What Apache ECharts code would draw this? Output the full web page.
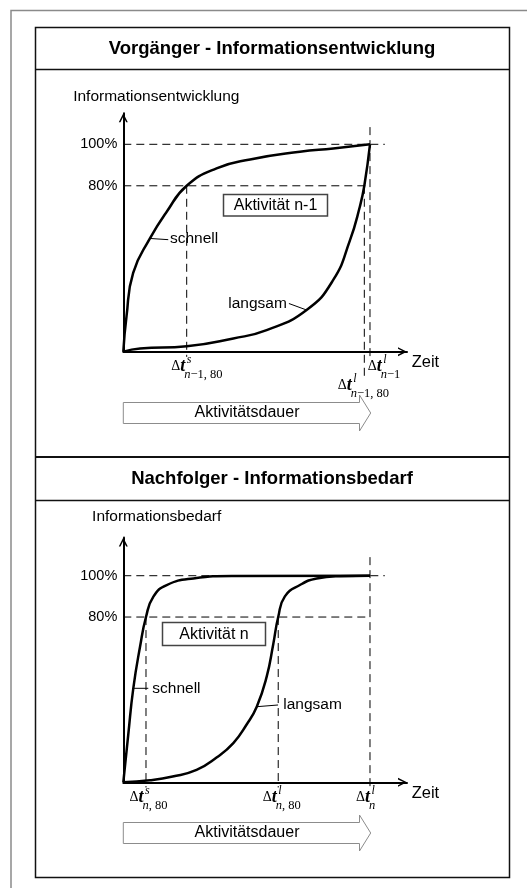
<!DOCTYPE html>
<html>
<head>
<meta charset="utf-8">
<script src="https://cdn.jsdelivr.net/npm/echarts@6/dist/echarts.min.js"></script>
<style>
html, body { margin: 0; padding: 0; background: #fff; }
#chart { width: 527px; height: 888px; }
</style>
</head>
<body>
<div id="chart"></div>
<script>
// Zeitachse: 0..100 = Aktivitätsdauer, y: Information in %
// Vorgänger - Informationsentwicklung
var vorSchnellX = [0, 1.3, 4, 10.8, 17.6, 25.7, 37.8, 51.4, 71.6, 85.1, 100];
var vorSchnellY = [0, 17, 38, 54.6, 67.5, 80, 88.4, 92.7, 96.4, 98, 100];
var vorLangsamX = [0, 6.8, 25.7, 44.6, 58.1, 74.3, 85.1, 91.9, 95.9, 97.7, 100];
var vorLangsamY = [0, 1.5, 2.6, 6.4, 10.4, 20.1, 34.6, 53.8, 70, 80, 100];
var vorZeitpunkte = [25.7, 97.7, 100]; // Δt^s_{n-1,80}, Δt^l_{n-1,80}, Δt^l_{n-1}

// Nachfolger - Informationsbedarf
var nachSchnellX = [0, 2, 4.05, 6.8, 9.2, 12.2, 17.6, 28.4, 44.6, 100];
var nachSchnellY = [0, 23, 45.5, 65.7, 80, 89.9, 95.5, 98.7, 99.9, 100];
var nachLangsamX = [0, 10.8, 20, 29.7, 37.8, 44.6, 50, 54.1, 58.1, 60.8, 62.8, 65.5, 71.6, 78.4, 87.8, 100];
var nachLangsamY = [0, 1, 2.8, 6, 12, 19, 28, 36.6, 51, 67, 80, 90, 95.5, 98.7, 99.8, 100];
var nachZeitpunkte = [9.2, 62.8, 100]; // Δt^s_{n,80}, Δt^l_{n,80}, Δt^l_n

var niveaus = [80, 100];
var yLabels = ['80%', '100%'];

var SANS = '"Liberation Sans", Arial, sans-serif';
var SERIF = '"Liberation Serif", "Times New Roman", serif';
var arrowPath = 'path://M0,100 L50,0 L100,100 L82,100 L50,36 L18,100 Z';

function zip(xs, ys) {
  return xs.map(function (x, i) { return [x, ys[i]]; });
}

var chart = echarts.init(document.getElementById('chart'));

function xAxisCfg(g) {
  return {
    type: 'value', gridIndex: g, min: 0, max: 115,
    axisLine: { show: true, onZero: true, lineStyle: { color: '#000', width: 2 },
      symbol: ['none', arrowPath], symbolSize: [12, 9], symbolOffset: [0, -4.5] },
    axisTick: { show: false }, axisLabel: { show: false }, splitLine: { show: false }
  };
}
function yAxisCfg(g, max) {
  return {
    type: 'value', gridIndex: g, min: 0, max: max, interval: 20,
    axisLine: { show: true, lineStyle: { color: '#000', width: 2 },
      symbol: ['none', arrowPath], symbolSize: [11, 9], symbolOffset: [0, -4.5] },
    axisTick: { show: false }, splitLine: { show: false },
    axisLabel: {
      margin: 6, color: '#000', fontSize: 14.5, fontFamily: SANS,
      formatter: function (v) {
        var i = niveaus.indexOf(v);
        return i >= 0 ? yLabels[i] : '';
      }
    }
  };
}
function curve(g, xs, ys) {
  return {
    type: 'line', xAxisIndex: g, yAxisIndex: g, data: zip(xs, ys),
    smooth: 0.5, showSymbol: false, silent: true, z: 5,
    lineStyle: { color: '#000', width: 2.5 }
  };
}
function guide(g, pts) {
  return {
    type: 'line', xAxisIndex: g, yAxisIndex: g, data: pts, clip: false,
    showSymbol: false, silent: true, z: 3,
    lineStyle: { color: '#000', width: 1, type: [8, 5] }
  };
}

var series = [
  curve(0, vorSchnellX, vorSchnellY),
  curve(0, vorLangsamX, vorLangsamY),
  curve(1, nachSchnellX, nachSchnellY),
  curve(1, nachLangsamX, nachLangsamY),
  // gestrichelte Hilfslinien
  guide(0, [[0, niveaus[0]], [100, niveaus[0]]]),
  guide(0, [[0, niveaus[1]], [106, niveaus[1]]]),
  guide(0, [[vorZeitpunkte[0], niveaus[0]], [vorZeitpunkte[0], -2.5]]),
  guide(0, [[vorZeitpunkte[1], niveaus[0]], [vorZeitpunkte[1], -13.6]]),
  guide(0, [[vorZeitpunkte[2], 108.3], [vorZeitpunkte[2], -2.2]]),
  guide(1, [[0, niveaus[0]], [100, niveaus[0]]]),
  guide(1, [[0, niveaus[1]], [106, niveaus[1]]]),
  guide(1, [[nachZeitpunkte[0], niveaus[0]], [nachZeitpunkte[0], -2.5]]),
  guide(1, [[nachZeitpunkte[1], niveaus[0]], [nachZeitpunkte[1], -2.5]]),
  guide(1, [[nachZeitpunkte[2], 109], [nachZeitpunkte[2], -2.5]])
];

chart.setOption({
  animation: false,
  backgroundColor: '#fff',
  grid: [
    { left: 123.3, top: 113.2, width: 283.7, height: 238.5, outerBoundsMode: 'none' },
    { left: 123.3, top: 537.5, width: 283.7, height: 244.8, outerBoundsMode: 'none' }
  ],
  xAxis: [xAxisCfg(0), xAxisCfg(1)],
  yAxis: [yAxisCfg(0, 115), yAxisCfg(1, 118.5)],
  series: series
});

// ---- Beschriftungen ----
function txt(x, y, s, font, align) {
  return { type: 'text', x: x, y: y, silent: true, z: 20,
    style: { text: s, font: font, fill: '#000', align: align || 'center', verticalAlign: 'middle' } };
}
function line(x1, y1, x2, y2, color, w) {
  return { type: 'line', silent: true, z: 20,
    shape: { x1: x1, y1: y1, x2: x2, y2: y2 }, style: { stroke: color, lineWidth: w } };
}

function deltaLabel(g, xVal, sup, sub, dx, dy) {
  var p = chart.convertToPixel({ gridIndex: g }, [xVal, 0]);
  var x = p[0] + dx, y = p[1] + dy;
  return [
    { type: 'text', x: x, y: y + 15, silent: true, z: 20,
      style: { text: '{d|Δ}{t|t}', align: 'right', verticalAlign: 'middle',
        rich: { d: { fontFamily: SERIF, fontSize: 14, fill: '#000' },
                t: { fontFamily: SERIF, fontSize: 18, fontStyle: 'italic', fontWeight: 'bold', fill: '#000' } } } },
    txt(x + 1.5, y + 8.5, sup, 'italic 12px ' + SERIF, 'left'),
    { type: 'text', x: x - 1, y: y + 23, silent: true, z: 20,
      style: { text: '{i|n}{r|' + sub + '}', align: 'left', verticalAlign: 'middle',
        rich: { i: { fontFamily: SERIF, fontSize: 12.5, fontStyle: 'italic', fill: '#000' },
                r: { fontFamily: SERIF, fontSize: 12.5, fill: '#000' } } } }
  ];
}

function note(g, at, s, ex, ey, tx, ty, align) {
  var a = chart.convertToPixel({ gridIndex: g }, at);
  return [
    line(a[0], a[1], a[0] + ex, a[1] + ey, '#000', 1),
    txt(a[0] + tx, a[1] + ty, s, '15.5px ' + SANS, align)
  ];
}

function dauerPfeil(cy) {
  return [
    { type: 'polygon', silent: true, z: 10,
      shape: { points: [[123.3, cy - 10.5], [359.5, cy - 10.5], [359.5, cy - 18], [370.7, cy],
                        [359.5, cy + 18], [359.5, cy + 10.5], [123.3, cy + 10.5]] },
      style: { fill: '#fff', stroke: '#8c8c8c', lineWidth: 1 } },
    txt(247, cy, 'Aktivitätsdauer', '16px ' + SANS)
  ];
}

function box(x, y, w, h, s) {
  return [
    { type: 'rect', silent: true, z: 15, shape: { x: x, y: y, width: w, height: h },
      style: { fill: '#fff', stroke: '#444', lineWidth: 1.5 } },
    txt(x + w / 2, y + h / 2 + 0.5, s, '16px ' + SANS)
  ];
}

var g = [];
// Rahmen
g.push({ type: 'polyline', silent: true, shape: { points: [[11, 888], [11, 10.5], [527, 10.5]] },
  style: { stroke: '#8a8a8a', lineWidth: 1.5, fill: null } });
g.push({ type: 'rect', silent: true, shape: { x: 35.5, y: 27.5, width: 474, height: 850 },
  style: { fill: null, stroke: '#111', lineWidth: 1.5 } });
g.push(line(35.5, 69.5, 509.5, 69.5, '#111', 1.5));
g.push(line(35.5, 457, 509.5, 457, '#111', 2));
g.push(line(35.5, 500.5, 509.5, 500.5, '#111', 1.5));

g.push(txt(272, 48.5, 'Vorgänger - Informationsentwicklung', 'bold 18.5px ' + SANS));
g.push(txt(272, 479, 'Nachfolger - Informationsbedarf', 'bold 18.5px ' + SANS));
g.push(txt(156.3, 96.7, 'Informationsentwicklung', '15.5px ' + SANS));
g.push(txt(156.7, 516.7, 'Informationsbedarf', '15.5px ' + SANS));

var o0 = chart.convertToPixel({ gridIndex: 0 }, [0, 0]);
var o1 = chart.convertToPixel({ gridIndex: 1 }, [0, 0]);
g.push(txt(411.7, o0[1] + 10.8, 'Zeit', '16.5px ' + SANS, 'left'));
g.push(txt(411.7, o1[1] + 10.8, 'Zeit', '16.5px ' + SANS, 'left'));

g = g.concat(
  deltaLabel(0, vorZeitpunkte[0], 's', '−1, 80', -1.5, 0),
  deltaLabel(0, vorZeitpunkte[1], 'l', '−1, 80', -12.5, 19),
  deltaLabel(0, vorZeitpunkte[2], 'l', '−1', 11.7, 0),
  deltaLabel(1, nachZeitpunkte[0], 's', ', 80', -2.5, 0),
  deltaLabel(1, nachZeitpunkte[1], 'l', ', 80', -1.5, 0),
  deltaLabel(1, nachZeitpunkte[2], 'l', '', 0, 0),
  note(0, [10.8, 54.6], 'schnell', 18.3, 1.2, 20, 0, 'left'),
  note(0, [74.3, 20.1], 'langsam', -17.7, -6.5, -19.7, -6.7, 'right'),
  note(1, [4.05, 45.5], 'schnell', 15, 0, 19, 0, 'left'),
  note(1, [54.1, 36.6], 'langsam', 21.3, -1.7, 26.5, -1.7, 'left'),
  box(223.5, 194.5, 104, 21.5, 'Aktivität n-1'),
  box(162.5, 622.5, 103, 23, 'Aktivität n'),
  dauerPfeil(413),
  dauerPfeil(833)
);

chart.setOption({ graphic: g });
window.addEventListener('resize', function () { chart.resize(); });
</script>
</body>
</html>
